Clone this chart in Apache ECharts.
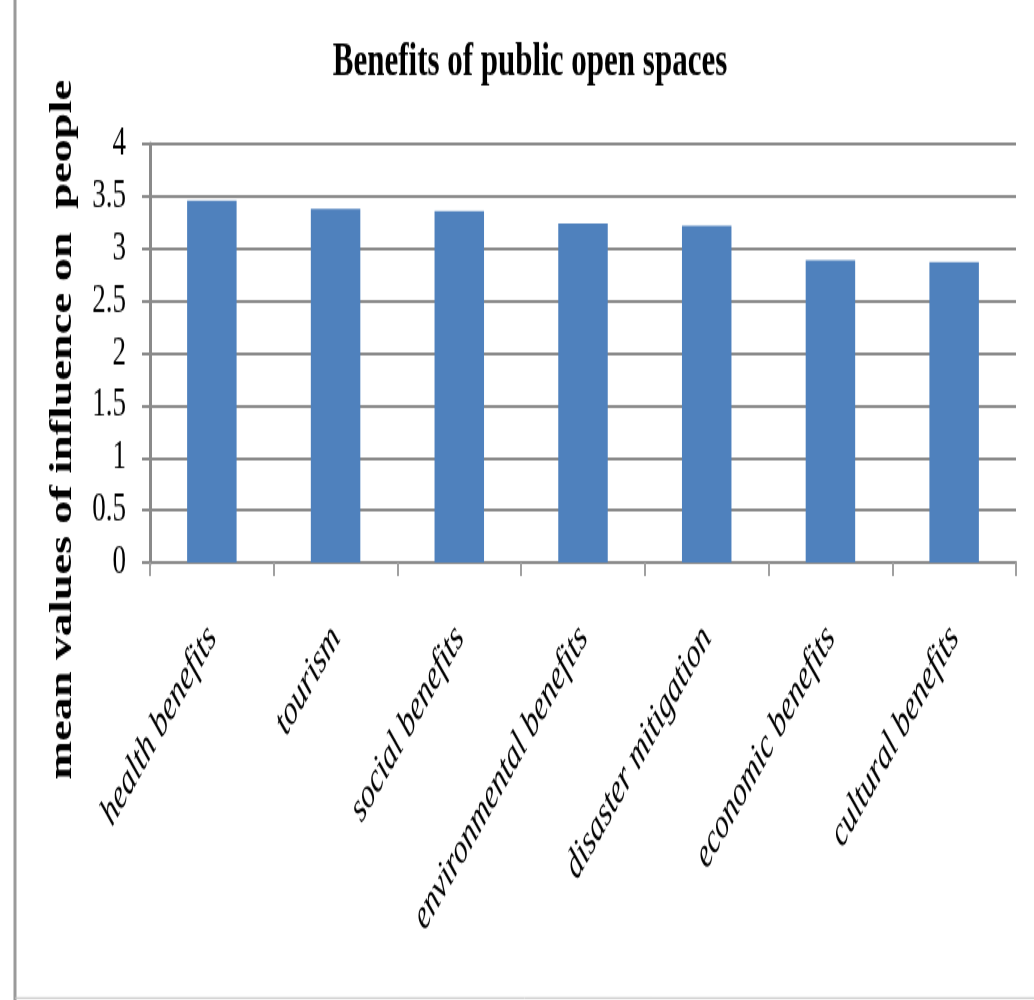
<!DOCTYPE html>
<html>
<head>
<meta charset="utf-8">
<title>Benefits of public open spaces</title>
<script src="https://cdn.jsdelivr.net/npm/echarts@6/dist/echarts.min.js"></script>
<style>
  html, body { margin: 0; padding: 0; background: #fff; }
  #page { width: 1034px; height: 1000px; position: relative; }
  /* The chart is laid out at two-thirds height and stretched vertically,
     giving the tall, narrow lettering of the printed figure. */
  #chart {
    position: absolute;
    left: 0;
    top: 0;
    width: 1034px;
    height: 667px;
    transform: scaleY(1.5);
    transform-origin: 0 0;
  }
</style>
</head>
<body>
<div id="page"><div id="chart"></div></div>
<script>
// Benefit categories, in the order they are plotted
const categories = [
  'health benefits',
  'tourism',
  'social benefits',
  'environmental benefits',
  'disaster mitigation',
  'economic benefits',
  'cultural benefits'
];

// Mean value of influence on people for each category
const meanValues = [3.46, 3.38, 3.36, 3.24, 3.22, 2.89, 2.87];

// Value axis range and step
const yMin = 0;
const yMax = 4;
const yStep = 0.5;

const chartTitle = 'Benefits of public open spaces';
const yAxisTitle = 'mean values of influence on  people';

const serif = '"Liberation Serif", "Times New Roman", Times, serif';
const gridGray = '#8a8a8a';

const chart = echarts.init(document.getElementById('chart'), null, { renderer: 'canvas' });

chart.setOption({
  backgroundColor: '#ffffff',
  animation: false,
  title: {
    text: chartTitle,
    left: 525,
    top: 21,
    textAlign: 'center',
    textStyle: {
      fontFamily: serif,
      fontWeight: 'bold',
      fontSize: 31,
      color: '#000'
    }
  },
  grid: {
    left: 150,
    right: 18,
    top: 96,
    bottom: 292,
    containLabel: false
  },
  xAxis: {
    type: 'category',
    data: categories,
    boundaryGap: true,
    axisLine: { show: true, lineStyle: { color: gridGray, width: 2 } },
    axisTick: { show: true, length: 9, lineStyle: { color: '#a0a0a0', width: 2 } },
    axisLabel: {
      rotate: 50,
      margin: 46,
      interval: 0,
      fontFamily: serif,
      fontStyle: 'italic',
      fontSize: 28,
      color: '#000'
    },
    splitLine: { show: false }
  },
  yAxis: {
    type: 'value',
    min: yMin,
    max: yMax,
    interval: yStep,
    name: yAxisTitle,
    nameLocation: 'middle',
    nameGap: 72,
    nameRotate: 90,
    nameTextStyle: {
      fontFamily: serif,
      fontWeight: 'bold',
      fontSize: 31,
      color: '#000',
      padding: [0, 102, 0, 0]
    },
    axisLine: { show: true, lineStyle: { color: gridGray, width: 3 } },
    axisTick: { show: true, length: 8, lineStyle: { color: gridGray, width: 2 } },
    axisLabel: {
      margin: 24,
      fontFamily: serif,
      fontSize: 27,
      color: '#000'
    },
    splitLine: { show: true, lineStyle: { color: gridGray, width: 2 } }
  },
  series: [{
    type: 'bar',
    data: meanValues,
    barWidth: '40%',
    itemStyle: { color: '#4f81bd' }
  }],
  graphic: [
    // outer frame: left and bottom edges
    {
      type: 'line',
      shape: { x1: 15, y1: 0, x2: 15, y2: 667 },
      style: { stroke: '#9a9a9a', lineWidth: 3 }
    },
    {
      type: 'line',
      shape: { x1: 15, y1: 665.3, x2: 1034, y2: 665.3 },
      style: { stroke: '#c4c4c4', lineWidth: 1 }
    }
  ]
});
</script>
</body>
</html>
